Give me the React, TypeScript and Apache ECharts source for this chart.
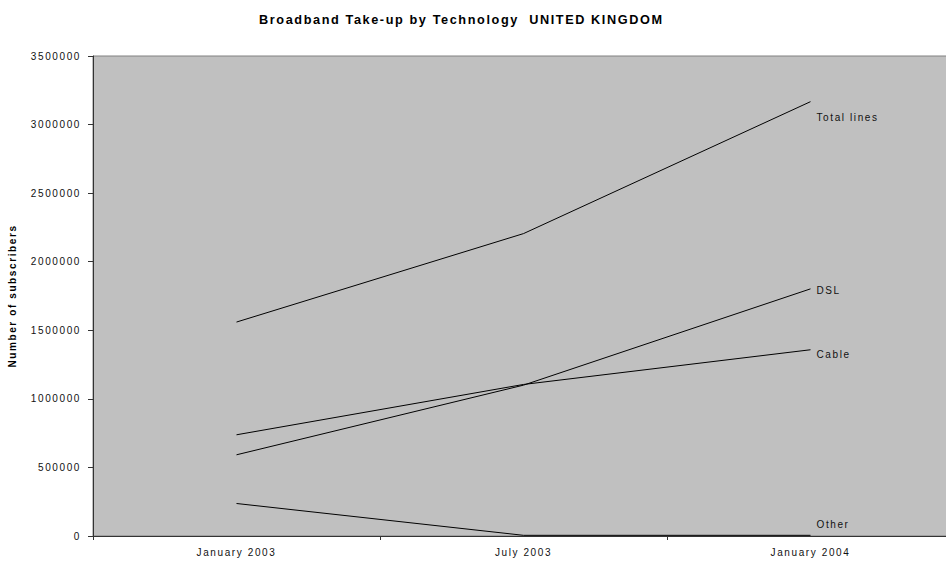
import React, { useEffect, useRef } from "react";
import * as echarts from "echarts";

const categories = ["January 2003", "July 2003", "January 2004"];
const totalLines = [1560000, 2205000, 3167000];
const dsl = [592000, 1100000, 1802000];
const cable = [738000, 1105000, 1358000];
const other = [237000, 5000, 5000];

const FONT = "'Liberation Sans', Arial, sans-serif";

export default function App() {
  const ref = useRef<HTMLDivElement>(null);
  useEffect(() => {
    if (!ref.current) return;
    const chart = echarts.init(ref.current, undefined, { renderer: "svg" });
    const mk = (name: string, data: number[], dy: number) => ({
      type: "line",
      name,
      data,
      symbol: "none",
      lineStyle: { color: "#000", width: 1 },
      endLabel: {
        show: true,
        formatter: name,
        distance: 6,
        offset: [0, dy],
        color: "#111",
        fontSize: 10,
        fontFamily: FONT,
      },
    });
    chart.setOption({
      animation: false,
      backgroundColor: "#fff",
      title: {
        text: "Broadband Take-up by Technology  UNITED KINGDOM",
        left: 259,
        top: 13,
        padding: 0,
        textStyle: { fontSize: 12.7, fontWeight: "bold", color: "#000", fontFamily: FONT },
      },
      grid: {
        left: 93,
        top: 56,
        width: 861,
        height: 480,
        outerBoundsMode: "none",
        containLabel: false,
        show: true,
        backgroundColor: "#C0C0C0",
        borderColor: "#808080",
        borderWidth: 1,
      },
      xAxis: {
        type: "category",
        data: categories,
        boundaryGap: true,
        axisLine: { lineStyle: { color: "#333", width: 1 } },
        axisTick: { show: true, alignWithLabel: false, length: 4, lineStyle: { color: "#333" } },
        axisLabel: { color: "#111", fontSize: 10, fontFamily: FONT, margin: 11 },
        splitLine: { show: false },
      },
      yAxis: {
        type: "value",
        min: 0,
        max: 3500000,
        interval: 500000,
        name: "Number of subscribers",
        nameLocation: "middle",
        nameGap: 76,
        nameTextStyle: { fontSize: 10, fontWeight: "bold", color: "#000", fontFamily: FONT },
        axisLine: { show: true, lineStyle: { color: "#333", width: 1 } },
        axisTick: { show: true, length: 5, lineStyle: { color: "#333" } },
        axisLabel: {
          color: "#111",
          fontSize: 10,
          fontFamily: FONT,
          margin: 12,
          formatter: (v: number) => String(v),
        },
        splitLine: { show: false },
      },
      series: [
        mk("Total lines", totalLines, 16),
        mk("DSL", dsl, 2),
        mk("Cable", cable, 5),
        mk("Other", other, -11),
      ],
    });
    return () => chart.dispose();
  }, []);
  return (
    <>
      <style>{`#chartbox text { letter-spacing: 1.6px; }`}</style>
      <div
        id="chartbox"
        ref={ref}
        style={{ position: "fixed", left: 0, top: 0, width: 946, height: 563, overflow: "hidden" }}
      />
    </>
  );
}
